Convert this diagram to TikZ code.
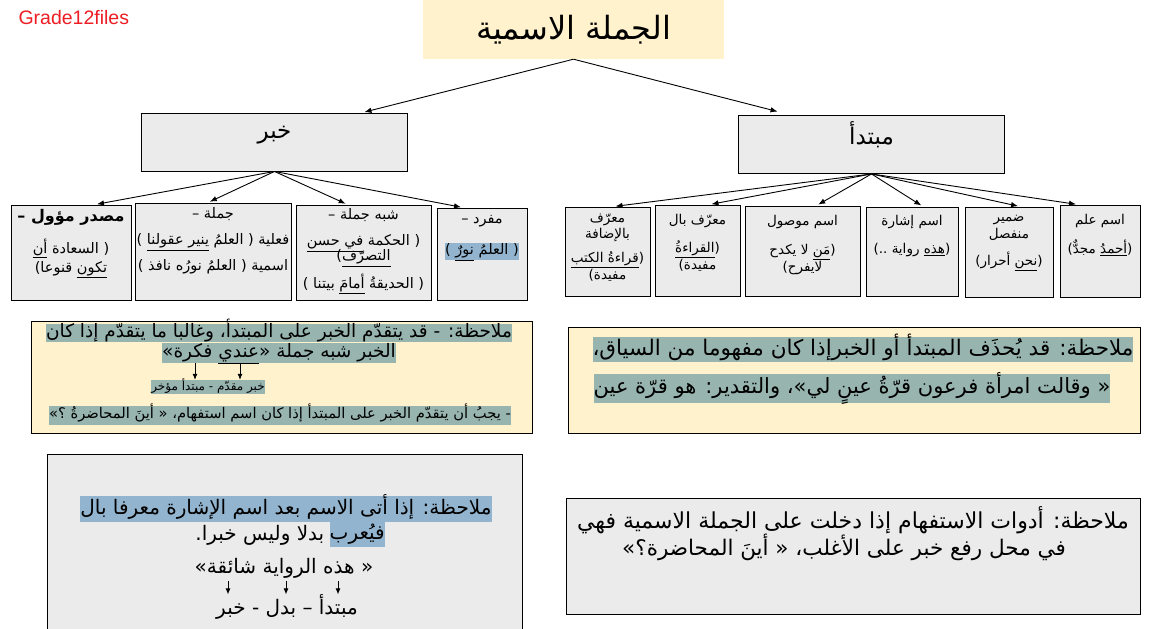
\documentclass[tikz,border=0pt]{standalone}
\usepackage{fontspec}
\setmainfont{Liberation Sans}
\newfontfamily\arabicfont[Script=Arabic]{DejaVu Sans}
\TeXXeTstate=1
\usetikzlibrary{arrows.meta, positioning}
\definecolor{titlefill}{HTML}{FFF2CC}
\definecolor{notefill}{HTML}{FFF2CC}
\definecolor{cardfill}{HTML}{EBEBEB}
\definecolor{hlteal}{HTML}{97B5AE}
\definecolor{hlblue}{HTML}{92B4CE}
\definecolor{markred}{HTML}{EE1D23}
\definecolor{darkline}{HTML}{000000}
\newcommand{\ar}[1]{\beginR #1\endR}
\newcommand{\ul}[1]{\underline{\beginR #1\endR}}
\newcommand{\arsize}[2]{\arabicfont\fontsize{#1}{#2}\selectfont}
\newcommand{\hlword}[1]{\hbox{\setlength{\fboxsep}{0pt}\colorbox{hlblue}{\strut #1}}}
\tikzset{
  titlebox/.style={rectangle, fill=titlefill, minimum width=301pt, minimum height=59pt, inner sep=0pt, font=\arsize{32}{36}},
  head/.style={rectangle, draw=darkline, fill=cardfill, line width=0.9pt, minimum width=266pt, minimum height=58pt},
  headtext/.style={inner sep=0pt, font=\arsize{23}{28}},
  card/.style={rectangle, draw=darkline, fill=cardfill, line width=0.9pt},
  cardtext/.style={align=center, inner sep=0pt, font=\arsize{13.5}{16}},
  bigcardtext/.style={align=center, inner sep=0pt, font=\arsize{14.5}{17}},
  note/.style={rectangle, draw=darkline, line width=0.9pt},
  tealline/.style 2 args={fill=hlteal, inner sep=0pt, text height=#1, text depth=#2},
  blueline/.style 2 args={fill=hlblue, inner sep=0pt, text height=#1, text depth=#2},
  plainline/.style={inner sep=0pt},
  link/.style={-{Latex[length=7pt,width=5.5pt]}, line width=0.9pt, draw=darkline, shorten >=2pt},
  tick/.style={-{Latex[length=6pt,width=5pt]}, line width=0.8pt, draw=darkline},
}
\begin{document}
\begin{tikzpicture}[x=1pt, y=-1pt]

\fill[white] (0,0) rectangle (1149,629);
\useasboundingbox (0,0) rectangle (1149,629);

% ===== Title =====
\node[anchor=west, text=markred, font=\fontsize{19.5}{22}\selectfont] (mark) at (15,18) {Grade12files};
\node[titlebox] (title) at (573.5,29.5) {\ar{الجملة الاسمية}};

% ===== Heads =====
\node[head] (khabar) at (274.5,142) {};
\node[headtext] (khabart) at ([yshift=7pt]khabar.center) {\ar{خبر}};
\node[head] (mubtada) at (871.5,144.5) {};
\node[headtext] (mubtadat) at ([yshift=10pt]mubtada.center) {\ar{مبتدأ}};

% ===== Khabar kinds =====
\node[card, minimum width=120pt, minimum height=95pt] (kh1) at (71,252.5) {};
\node[bigcardtext, below=5pt of kh1.north] (kh1t) {{\arsize{16}{18}\bfseries – \ar{مصدر مؤول}}\\[12pt]\ar{( السعادة \ul{أن}}\\[2pt]\ar{\ul{تكون} قنوعا)}};
\node[card, minimum width=156pt, minimum height=97pt] (kh2) at (213,251.5) {};
\node[bigcardtext, below=5pt of kh2.north] (kh2t) {– \ar{جملة}\\[9pt]\ar{فعلية ( العلمُ \ul{ينير عقولنا} )}\\[9pt]\ar{اسمية ( العلمُ نورُه نافذ )}};
\node[card, minimum width=135pt, minimum height=95pt] (kh3) at (363.5,252.5) {};
\node[bigcardtext, below=4pt of kh3.north] (kh3t) {– \ar{شبه جملة}\\[9pt]\ar{( الحكمة \ul{في حسن}}\\[-2pt]\ar{\ul{التصرّف})}\\[7pt]\ar{( الحديقةُ \ul{أمامَ} بيتنا )}};
\node[card, minimum width=90pt, minimum height=92pt] (kh4) at (482,254) {};
\node[bigcardtext, below=8pt of kh4.north] (kh4t) {– \ar{مفرد}\\[14pt]\hlword{\ar{( العلمُ \ul{نورٌ} )}}};

% ===== Mubtada kinds =====
\node[card, minimum width=85pt, minimum height=89pt] (mb1) at (607.5,251.5) {};
\node[cardtext, below=7pt of mb1.north] (mb1t) {\ar{معرّف}\\\ar{بالإضافة}\\[8pt]\ar{(\ul{قراءةُ الكتب}}\\[1pt]\ar{مفيدة)}};
\node[card, minimum width=85pt, minimum height=91pt] (mb2) at (697.5,250.5) {};
\node[cardtext, below=9pt of mb2.north] (mb2t) {\ar{معرّف بال}\\[12pt]\ar{(\ul{القراءةُ}}\\[1pt]\ar{مفيدة)}};
\node[card, minimum width=115pt, minimum height=90pt] (mb3) at (802.5,251) {};
\node[cardtext, below=9pt of mb3.north] (mb3t) {\ar{اسم موصول}\\[13pt]\ar{(\ul{مَن} لا يكدح}\\[1pt]\ar{لايفرح)}};
\node[card, minimum width=92pt, minimum height=89pt] (mb4) at (912,251.5) {};
\node[cardtext, below=8pt of mb4.north] (mb4t) {\ar{اسم إشارة}\\[12pt]\ar{(\ul{هذه} رواية ..)}};
\node[card, minimum width=88pt, minimum height=90pt] (mb5) at (1009,252) {};
\node[cardtext, below=8pt of mb5.north] (mb5t) {\ar{ضمير}\\[1pt]\ar{منفصل}\\[11pt]\ar{(\ul{نحن} أحرار)}};
\node[card, minimum width=80pt, minimum height=92pt] (mb6) at (1100,251) {};
\node[cardtext, below=9pt of mb6.north] (mb6t) {\ar{اسم علم}\\[11pt]\ar{(\ul{أحمدُ} مجدٌّ)}};

% ===== Notes =====
\node[note, fill=notefill, minimum width=501pt, minimum height=112pt] (note1) at (281.5,377) {};
\node[tealline={14pt}{4.5pt}, font=\arsize{18.5}{20}] (n1a) at (279,333) {\ar{ملاحظة: - قد يتقدّم الخبر على المبتدأ، وغالبا ما يتقدّم إذا كان}};
\node[tealline={15pt}{5pt}, font=\arsize{18.5}{20}, below=0pt of n1a] (n1b) {\ar{الخبر شبه جملة «\ul{عندي} فكرة»}};
\node[tealline={10pt}{4pt}, font=\arsize{12}{14}] (n1c) at (208,387) {\ar{خبر مقدّم - مبتدأ مؤخر}};
\node[tealline={13pt}{6pt}, font=\arsize{14.7}{16}] (n1d) at (280,415) {\ar{- يجبُ أن يتقدّم الخبر على المبتدأ إذا كان اسم استفهام، « أينَ المحاضرةُ ؟»}};
\coordinate (w1) at (240,363);
\coordinate (w2) at (195,363);

\node[note, fill=notefill, minimum width=572pt, minimum height=106pt] (note2) at (854,380) {};
\node[tealline={18pt}{7pt}, font=\arsize{21.5}{24}] (n2a) at (863,349.5) {\ar{ملاحظة: قد يُحذَف المبتدأ أو الخبرإذا كان مفهوما من السياق،}};
\node[tealline={20pt}{9pt}, font=\arsize{21}{24}] (n2b) at (852,388) {\ar{« وقالت امرأة فرعون قرّةُ عينٍ لي»، والتقدير: هو قرّة عين}};

\node[note, fill=cardfill, minimum width=475pt, minimum height=190pt] (note3) at (284.5,549) {};
\node[blueline={18pt}{8pt}, font=\arsize{20}{22}] (n3a) at (286,509) {\ar{ملاحظة: إذا أتى الاسم بعد اسم الإشارة معرفا بال}};
\node[blueline={17pt}{8pt}, font=\arsize{20}{22}, anchor=north east] (n3b) at (n3a.south east -| 385,0) {\ar{فيُعرب}};
\node[plainline, font=\arsize{20}{22}, left=5pt of n3b] (n3bb) {\ar{بدلا وليس خبرا.}};
\node[plainline, font=\arsize{20}{22}] (n3c) at (284,568) {\ar{« هذه الرواية شائقة»}};
\node[plainline, font=\arsize{20}{22}] (n3d) at (287,607) {\ar{مبتدأ – بدل - خبر}};
\coordinate (w3) at (338,581);
\coordinate (w4) at (286,581);
\coordinate (w5) at (228,581);

\node[note, fill=cardfill, minimum width=574pt, minimum height=116pt] (note4) at (853,556) {};
\node[plainline, font=\arsize{22}{24}] (n4a) at (853,520) {\ar{ملاحظة: أدوات الاستفهام إذا دخلت على الجملة الاسمية فهي}};
\node[plainline, font=\arsize{21.5}{24}] (n4b) at (844,547) {\ar{في محل رفع خبر على الأغلب، « أينَ المحاضرة؟»}};

% ===== Flow =====
\draw[link] (title.south) -- ([xshift=88pt]khabar.north);
\draw[link] (title.south) -- ([xshift=-92pt, yshift=3pt]mubtada.north);
\draw[link] (khabar.south) -- ([xshift=24pt]kh1.north);
\draw[link] (khabar.south) -- ([xshift=-5pt]kh2.north);
\draw[link] (khabar.south) -- ([xshift=-16pt]kh3.north);
\draw[link] (khabar.south) -- ([xshift=-19pt]kh4.north);
\draw[link] (mubtada.south) -- ([xshift=6pt]mb1.north);
\draw[link] (mubtada.south) -- ([xshift=12pt]mb2.north);
\draw[link] (mubtada.south) -- ([xshift=14pt]mb3.north);
\draw[link] (mubtada.south) -- ([xshift=11pt]mb4.north);
\draw[link] (mubtada.south) -- ([xshift=11pt]mb5.north);
\draw[link] (mubtada.south) -- ([xshift=-22pt]mb6.north);
\draw[tick] (w1) -- (w1 |- n1c.north);
\draw[tick] (w2) -- (w2 |- n1c.north);
\draw[tick] (w3) -- (w3 |- n3d.north);
\draw[tick] (w4) -- (w4 |- n3d.north);
\draw[tick] (w5) -- (w5 |- n3d.north);

\end{tikzpicture}
\end{document}
